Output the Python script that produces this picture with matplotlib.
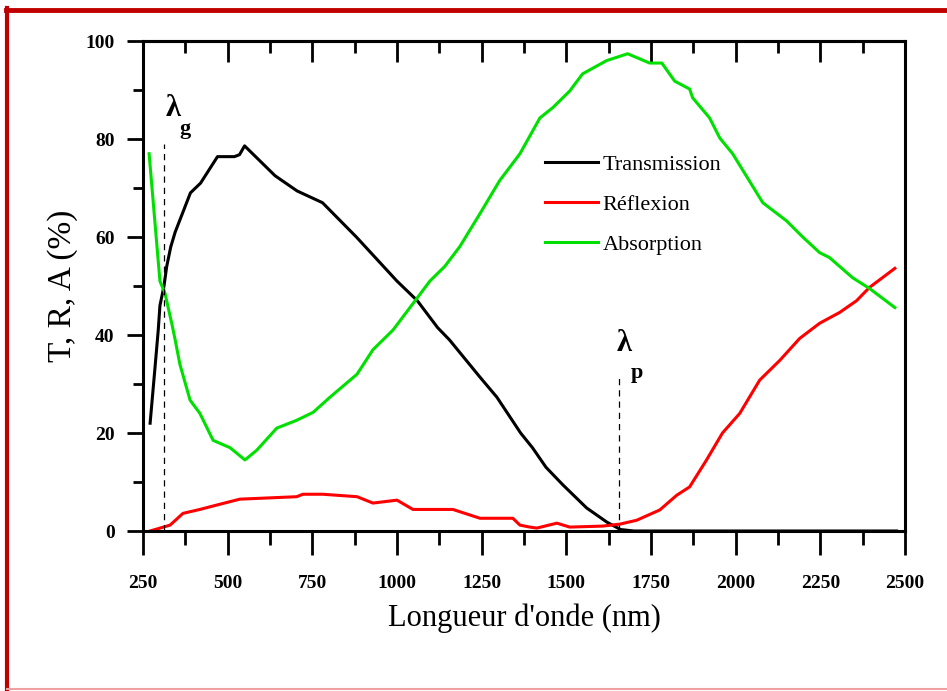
import matplotlib
matplotlib.use('Agg')
import matplotlib.pyplot as plt
from matplotlib.lines import Line2D
from matplotlib.ticker import MultipleLocator

# wavelength (nm) and T / R / A (%)
wl_T = [271, 285, 295, 300, 312, 320, 332, 345, 390, 420, 470, 520, 535, 550, 640, 705,
        780, 880, 920, 1000, 1060, 1120, 1155, 1245, 1295, 1365, 1400, 1440, 1490, 1560,
        1620, 1660, 1700, 2000, 2250, 2475]
T = [22, 33, 41, 46, 50, 54, 58, 61, 69, 71, 76.4, 76.4, 76.8, 78.6, 72.5, 69.4,
     67, 60, 57, 51, 47, 41.5, 39, 31.4, 27.3, 20, 17, 13, 9.4, 4.7,
     1.8, 0.3, 0, 0, 0, 0]

wl_R = [271, 330, 368, 418, 468, 536, 604, 704, 722, 781, 882, 929, 1000, 1047, 1165,
        1245, 1342, 1363, 1392, 1413, 1472, 1510, 1607, 1658, 1708, 1776, 1826, 1864,
        1914, 1961, 2012, 2071, 2130, 2189, 2248, 2307, 2357, 2395, 2470]
R = [0, 1.2, 3.6, 4.4, 5.3, 6.5, 6.7, 7, 7.5, 7.5, 7, 5.7, 6.3, 4.4, 4.4,
     2.6, 2.6, 1.2, 0.8, 0.6, 1.6, 0.8, 1.0, 1.4, 2.2, 4.3, 7.3, 9,
     14.5, 20, 24, 30.8, 34.8, 39.3, 42.4, 44.6, 47, 49.7, 53.6]

wl_A = [268, 300, 315, 336, 345, 359, 389, 418, 457, 507, 551, 586, 645, 704, 752, 802,
        882, 929, 988, 1047, 1097, 1141, 1185, 1247, 1303, 1363, 1422, 1460, 1510, 1548,
        1619, 1681, 1746, 1782, 1820, 1864, 1873, 1923, 1953, 1991, 2080, 2150, 2198,
        2248, 2277, 2345, 2395, 2470]
A = [77, 51, 48.5, 42, 39, 34, 26.7, 24, 18.5, 17, 14.5, 16.5, 21, 22.6, 24.2, 27.3,
     32, 37, 41, 46.4, 51, 54, 58, 65, 71.5, 77, 84.3, 86.4, 89.8, 93.3,
     96, 97.4, 95.5, 95.5, 91.8, 90.2, 88.4, 84.3, 80.2, 77, 67, 63.3, 60,
     56.8, 55.8, 51.7, 49.5, 45.6]

lambda_g = 312
lambda_p = 1655

serif = ['Liberation Serif', 'DejaVu Serif']
plt.rcParams['font.family'] = serif

fig = plt.figure(figsize=(9.47, 6.91), dpi=100)
ax = fig.add_axes([143 / 947, 1 - 531 / 691, 762 / 947, 490 / 691])

lw = 2.2
ax.plot(wl_T, T, color='black', lw=lw, label='Transmission', solid_joinstyle='round')
ax.plot(wl_R, R, color='#ff0000', lw=lw, label='Réflexion', solid_joinstyle='round')
ax.plot(wl_A, A, color='#00e000', lw=lw, label='Absorption', solid_joinstyle='round')

# band gap / plasma wavelength markers
ax.plot([lambda_g, lambda_g], [0, 79], color='black', lw=0.9, ls=(0, (5, 4)))
ax.plot([lambda_p, lambda_p], [0, 31.4], color='black', lw=0.9, ls=(0, (5, 4)))
ax.text(339, 86.2, 'λ', fontsize=22, fontweight='bold', ha='center', va='center')
ax.text(375, 82, 'g', fontsize=16, fontweight='bold', ha='center', va='center')
ax.text(1672, 38.3, 'λ', fontsize=22, fontweight='bold', ha='center', va='center')
ax.text(1708, 32.2, 'p', fontsize=16, fontweight='bold', ha='center', va='center')

ax.set_xlim(250, 2500)
ax.set_ylim(0, 100)
ax.xaxis.set_major_locator(MultipleLocator(250))
ax.xaxis.set_minor_locator(MultipleLocator(125))
ax.yaxis.set_major_locator(MultipleLocator(20))
ax.yaxis.set_minor_locator(MultipleLocator(10))

for s in ax.spines.values():
    s.set_linewidth(2.2)

ax.tick_params(axis='x', which='major', direction='out', length=17, width=2, pad=15,
               labelsize=14)
ax.tick_params(axis='x', which='minor', direction='out', length=10, width=2)
ax.tick_params(axis='y', which='major', direction='out', length=11.5, width=2, pad=9,
               labelsize=14)
ax.tick_params(axis='y', which='minor', direction='out', length=7, width=2)
for lab in ax.get_xticklabels() + ax.get_yticklabels():
    lab.set_fontweight('bold')

top = ax.secondary_xaxis('top')
top.xaxis.set_major_locator(MultipleLocator(250))
top.xaxis.set_minor_locator(MultipleLocator(125))
top.tick_params(which='major', direction='in', length=15, width=2, labeltop=False)
top.tick_params(which='minor', direction='in', length=8.5, width=2)
top.spines['top'].set_linewidth(2.2)

ax.set_xlabel("Longueur d'onde (nm)", fontsize=22, labelpad=8)
ax.set_ylabel('T, R, A (%)', fontsize=24, labelpad=5)

ax.legend(loc='upper left', bbox_to_anchor=(0.527, 0.769), frameon=False,
          fontsize=16, handlelength=2.4, handletextpad=0.2, labelspacing=0.87,
          borderpad=0, borderaxespad=0)

# dark red frame around the picture
fig.add_artist(Line2D([7 / 947, 7 / 947], [0, 1 - 8 / 691], transform=fig.transFigure,
                      color='#c00000', lw=3))
fig.add_artist(Line2D([5.5 / 947, 1], [1 - 10 / 691, 1 - 10 / 691],
                      transform=fig.transFigure, color='#c00000', lw=3.5))
fig.add_artist(Line2D([7 / 947, 1], [2 / 691, 2 / 691], transform=fig.transFigure,
                      color='#f0a0a0', lw=1.5))

fig.savefig('out.png', dpi=100, facecolor='white')
